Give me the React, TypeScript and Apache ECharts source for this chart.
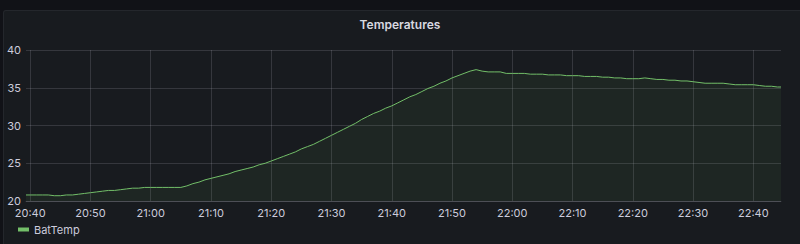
import React, { useEffect, useRef } from "react";
import * as echarts from "echarts";

// Time in minutes since midnight; first and last points are partial minutes
const seriesName = "BatTemp";
const startTime = 1239.3; // 20:39:18
const endTime = 1364.6; // 22:44:36
const tickLabels = ["20:40", "20:50", "21:00", "21:10", "21:20", "21:30", "21:40", "21:50", "22:00", "22:10", "22:20", "22:30", "22:40"];
const yTicks = [20, 25, 30, 35, 40];

// Readings at 20:39:18, then each minute 20:40 .. 22:44, then 22:44:36
const firstValue = 20.8;
const minuteValues = [
  20.8, 20.8, 20.8, 20.8, 20.7, 20.7, 20.8, 20.8, 20.9, 21.0,
  21.1, 21.2, 21.3, 21.4, 21.4, 21.5, 21.6, 21.7, 21.7, 21.8,
  21.8, 21.8, 21.8, 21.8, 21.8, 21.8, 22.0, 22.3, 22.5, 22.8,
  23.0, 23.2, 23.4, 23.6, 23.9, 24.1, 24.3, 24.5, 24.8, 25.0,
  25.3, 25.6, 25.9, 26.2, 26.5, 26.9, 27.2, 27.5, 27.9, 28.3,
  28.7, 29.1, 29.5, 29.9, 30.3, 30.8, 31.2, 31.6, 31.9, 32.3,
  32.6, 33.0, 33.4, 33.8, 34.1, 34.5, 34.9, 35.2, 35.6, 35.9,
  36.3, 36.6, 36.9, 37.2, 37.4, 37.2, 37.1, 37.1, 37.1, 36.9,
  36.9, 36.9, 36.9, 36.8, 36.8, 36.8, 36.7, 36.7, 36.7, 36.6,
  36.6, 36.6, 36.5, 36.5, 36.5, 36.4, 36.4, 36.3, 36.3, 36.2,
  36.2, 36.2, 36.3, 36.2, 36.1, 36.1, 36.0, 36.0, 35.9, 35.9,
  35.8, 35.7, 35.6, 35.6, 35.6, 35.6, 35.5, 35.4, 35.4, 35.4,
  35.4, 35.3, 35.2, 35.2, 35.1,
];
const lastValue = 35.1;

const toMin = (s: string) => {
  const [h, m] = s.split(":").map(Number);
  return h * 60 + m;
};
const fmt = (v: number) => {
  const h = Math.floor(v / 60);
  const m = Math.round(v - h * 60);
  return `${String(h).padStart(2, "0")}:${String(m).padStart(2, "0")}`;
};

export default function App() {
  const ref = useRef<HTMLDivElement>(null);
  useEffect(() => {
    document.body.style.margin = "0";
    document.body.style.background = "#111217";
    const chart = echarts.init(ref.current!, undefined, { renderer: "svg" });
    const firstMinute = toMin(tickLabels[0]);
    const data: [number, number][] = [[startTime, firstValue]];
    minuteValues.forEach((v, i) => data.push([firstMinute + i, v]));
    data.push([endTime, lastValue]);
    const xTicks = tickLabels.map(toMin);
    const font = "Inter, 'Noto Sans', sans-serif";
    const txt = "#ccccdc";
    const gridColor = "rgba(204,204,220,0.16)";
    chart.setOption({
      animation: false,
      backgroundColor: "transparent",
      textStyle: { fontFamily: font },
      title: {
        text: "Temperatures",
        left: "center",
        top: 13,
        textStyle: { color: "#d8d9e0", fontSize: 12, fontWeight: 600, fontFamily: font },
      },
      legend: {
        data: [seriesName],
        left: 13,
        top: 219,
        icon: "rect",
        itemWidth: 11,
        itemHeight: 4,
        itemGap: 7,
        textStyle: { color: txt, fontSize: 11, fontFamily: font },
      },
      grid: { left: 26, right: 19, top: 50, bottom: 43, outerBoundsMode: "none", containLabel: false },
      xAxis: {
        type: "value",
        min: startTime,
        max: endTime,
        axisLine: { show: true, lineStyle: { color: gridColor } },
        axisTick: { show: false, customValues: xTicks },
        axisLabel: {
          customValues: xTicks,
          formatter: (v: number) => fmt(v),
          color: txt,
          fontSize: 11,
          margin: 6,
          fontFamily: font,
        },
        splitLine: { show: true, lineStyle: { color: gridColor, width: 1 } },
      },
      yAxis: {
        type: "value",
        min: yTicks[0],
        max: yTicks[yTicks.length - 1],
        interval: 5,
        axisLine: { show: false },
        axisTick: { show: false },
        axisLabel: { color: txt, fontSize: 11, margin: 5, fontFamily: font },
        splitLine: { show: true, lineStyle: { color: gridColor, width: 1 } },
      },
      series: [
        {
          name: seriesName,
          type: "line",
          data,
          showSymbol: false,
          symbol: "none",
          lineStyle: { color: "#73BF69", width: 1 },
          itemStyle: { color: "#73BF69" },
          areaStyle: { color: "rgba(115,191,105,0.1)" },
        },
      ],
    });
    return () => chart.dispose();
  }, []);
  return (
    <div style={{ position: "relative", width: 800, height: 244, background: "#111217", overflow: "hidden" }}>
      <div
        style={{
          position: "absolute",
          left: 3,
          top: 10,
          width: 810,
          height: 250,
          background: "#181b1f",
          border: "1px solid rgba(204,204,220,0.07)",
          borderRadius: 3,
          boxSizing: "border-box",
        }}
      />
      <div ref={ref} style={{ position: "absolute", left: 0, top: 0, width: 800, height: 244 }} />
    </div>
  );
}
